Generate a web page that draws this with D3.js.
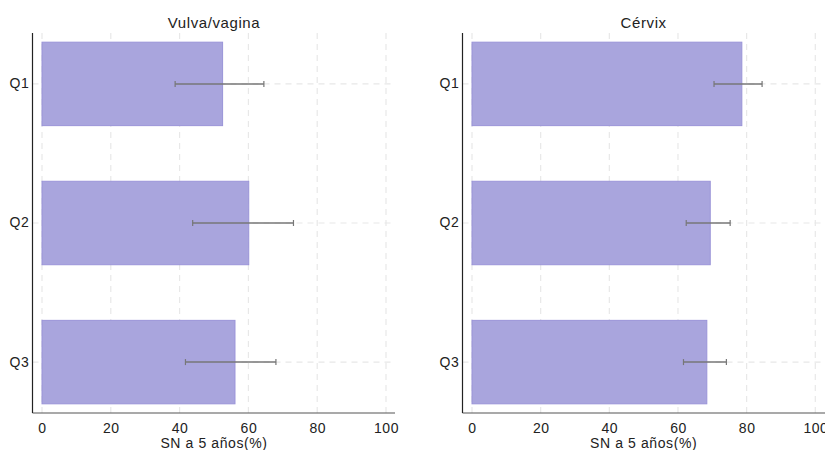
<!DOCTYPE html>
<html>
<head>
<meta charset="utf-8">
<script src="https://cdn.jsdelivr.net/npm/d3@7"></script>
<style>
  html, body { margin: 0; padding: 0; background: #fff; }
  svg { display: block; }
  text { font-family: "Liberation Sans", Arial, sans-serif; fill: #222; }
</style>
</head>
<body>
<svg id="chart" width="825" height="450"></svg>
<script>
const categories = ["Q1", "Q2", "Q3"];
const panelTitles = ["Vulva/vagina", "Cérvix"];
const vulvaValues = [52.5, 60.1, 56.1];
const vulvaLower = [38.7, 43.8, 41.7];
const vulvaUpper = [64.5, 73.1, 68.0];
const cervixValues = [78.6, 69.4, 68.4];
const cervixLower = [70.5, 62.4, 61.6];
const cervixUpper = [84.5, 75.2, 74.1];
const xTicks = [0, 20, 40, 60, 80, 100];
const xLabel = "SN a 5 años(%)";

const panels = [
  { title: panelTitles[0], values: vulvaValues, lower: vulvaLower, upper: vulvaUpper,
    axisX: 32.5, x0: 42, x1: 386, axisEnd: 395 },
  { title: panelTitles[1], values: cervixValues, lower: cervixLower, upper: cervixUpper,
    axisX: 462.5, x0: 472, x1: 815.3, axisEnd: 825 }
];

const svg = d3.select("#chart");
const plotTop = 33, plotBottom = 413;
const FONT = '"Liberation Sans", Arial, sans-serif';

const y = d3.scaleBand().domain(categories).range([plotTop, plotBottom])
  .paddingInner(0.4).paddingOuter(0.066);

panels.forEach(p => {
  const g = svg.append("g");
  const x = d3.scaleLinear().domain([0, 100]).range([p.x0, p.x1]);

  // vertical grid
  g.selectAll(".vgrid").data(xTicks).join("line")
    .attr("x1", d => x(d)).attr("x2", d => x(d))
    .attr("y1", plotTop).attr("y2", plotBottom)
    .attr("stroke", "#e8e8e8").attr("stroke-width", 1.2)
    .attr("stroke-dasharray", "6,5");
  // horizontal grid
  g.selectAll(".hgrid").data(categories).join("line")
    .attr("x1", p.axisX).attr("x2", p.axisEnd)
    .attr("y1", d => y(d) + y.bandwidth() / 2).attr("y2", d => y(d) + y.bandwidth() / 2)
    .attr("stroke", "#e8e8e8").attr("stroke-width", 1.2)
    .attr("stroke-dasharray", "6,5");

  // bars
  g.selectAll(".bar").data(categories).join("rect")
    .attr("x", x(0))
    .attr("y", d => y(d))
    .attr("width", (d, i) => x(p.values[i]) - x(0))
    .attr("height", y.bandwidth())
    .attr("fill", "#a9a5dd")
    .attr("stroke", "#9a94d8")
    .attr("stroke-width", 1);

  // error bars
  const eb = g.selectAll(".eb").data(categories).join("g")
    .attr("transform", d => `translate(0,${y(d) + y.bandwidth() / 2})`);
  eb.append("line")
    .attr("x1", (d, i) => x(p.lower[i])).attr("x2", (d, i) => x(p.upper[i]))
    .attr("y1", 0).attr("y2", 0)
    .attr("stroke", "#777").attr("stroke-width", 1.5);
  eb.append("line")
    .attr("x1", (d, i) => x(p.lower[i])).attr("x2", (d, i) => x(p.lower[i]))
    .attr("y1", -3).attr("y2", 3)
    .attr("stroke", "#777").attr("stroke-width", 1.2);
  eb.append("line")
    .attr("x1", (d, i) => x(p.upper[i])).attr("x2", (d, i) => x(p.upper[i]))
    .attr("y1", -3).attr("y2", 3)
    .attr("stroke", "#777").attr("stroke-width", 1.2);

  // x axis
  const xAxis = d3.axisBottom(x).tickValues(xTicks).tickSize(0).tickPadding(10);
  const xg = g.append("g").attr("transform", `translate(0,${plotBottom})`).call(xAxis);
  xg.select(".domain").remove();
  xg.selectAll("text").style("font-size", "14px").style("letter-spacing", "0.5px")
    .style("font-family", FONT).attr("fill", "#222");
  g.append("line").attr("x1", p.axisX).attr("x2", p.axisEnd)
    .attr("y1", plotBottom).attr("y2", plotBottom)
    .attr("stroke", "#555").attr("stroke-width", 1.2);

  // y axis
  const yAxis = d3.axisLeft(y).tickSize(0).tickPadding(3);
  const yg = g.append("g").attr("transform", `translate(${p.axisX},0)`).call(yAxis);
  yg.select(".domain").remove();
  yg.selectAll("text").style("font-size", "14px").style("letter-spacing", "0.6px")
    .style("font-family", FONT).attr("fill", "#222");
  g.append("line").attr("x1", p.axisX).attr("x2", p.axisX)
    .attr("y1", plotTop).attr("y2", plotBottom)
    .attr("stroke", "#222").attr("stroke-width", 1.2);

  // title
  g.append("text").attr("x", (p.x0 + p.x1) / 2).attr("y", 27.5)
    .attr("text-anchor", "middle").style("font-size", "15px")
    .style("letter-spacing", "0.6px").text(p.title);
  // x label
  g.append("text").attr("x", (p.x0 + p.x1) / 2).attr("y", 448)
    .attr("text-anchor", "middle").style("font-size", "14px")
    .style("letter-spacing", "0.6px").text(xLabel);
});
</script>
</body>
</html>
